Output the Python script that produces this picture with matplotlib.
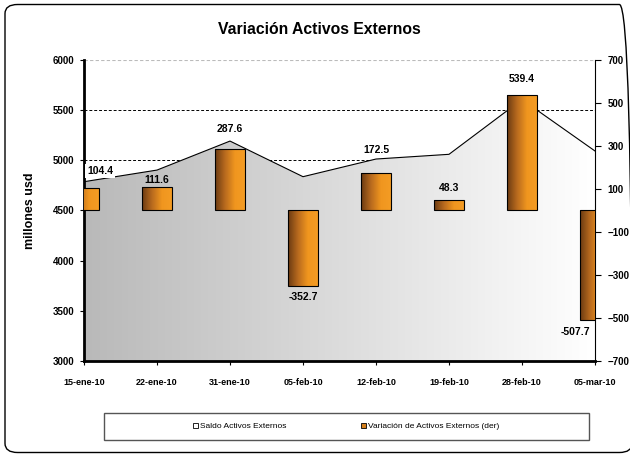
import matplotlib
matplotlib.use("Agg")
import matplotlib.pyplot as plt
import numpy as np
from matplotlib.colors import LinearSegmentedColormap
from matplotlib.patches import Polygon, Rectangle, FancyBboxPatch, Patch

plt.rcParams['font.family'] = ['Liberation Sans', 'DejaVu Sans']

fechas = ['15-ene-10', '22-ene-10', '31-ene-10', '05-feb-10',
          '12-feb-10', '19-feb-10', '28-feb-10', '05-mar-10']
saldo = [4787, 4903, 5192, 4837, 5013, 5060, 5606, 5093]
variacion = [104.4, 111.6, 287.6, -352.7, 172.5, 48.3, 539.4, -507.7]

# offsets de etiquetas (puntos) y desplazamiento horizontal (datos)
lbl_dy = [12, 5, 14, -8, 17, 9, 11, -9]
lbl_dx = [0.22, 0, 0, 0, 0, 0, 0, -0.27]

W, H = 630, 454
fig = plt.figure(figsize=(W / 100, H / 100), dpi=100)

# marco redondeado
frame = FancyBboxPatch((5 / W, 1.5 / H), 627 / W, 448 / H,
                       boxstyle="round,pad=0,rounding_size=0.02",
                       transform=fig.transFigure, fill=False,
                       edgecolor='black', linewidth=1.0)
fig.patches.append(frame)

ax = fig.add_axes([84 / W, 1 - 361 / H, (595 - 84) / W, (361 - 60) / H])
x = np.arange(len(fechas))
xmax = len(fechas) - 1

ax.set_xlim(0, xmax)
ax.set_ylim(3000, 6000)
ax.set_yticks(np.arange(3000, 6001, 500))

# grilla
for yv in np.arange(3500, 6000, 500):
    ax.axhline(yv, color='black', linestyle=(0, (3, 2)), linewidth=0.7, zorder=0)
ax.axhline(6000, color='#bbbbbb', linestyle=(0, (3, 2)), linewidth=0.8, zorder=0)

# area con degradado
verts = [(0, 3000)] + list(zip(x, saldo)) + [(x[-1], 3000)]
poly = Polygon(verts, closed=True, facecolor='none', edgecolor='none')
ax.add_patch(poly)
gray_cmap = LinearSegmentedColormap.from_list('g', ['#b9b9b9', '#ffffff'])
grad = np.linspace(0, 1, 256).reshape(1, -1)
im = ax.imshow(grad, extent=[0, xmax, 3000, 6000], aspect='auto', cmap=gray_cmap,
               zorder=1, origin='lower')
im.set_clip_path(poly)
ax.plot(x, saldo, color='black', linewidth=0.8, zorder=2)

ax.spines['top'].set_visible(False)
ax.spines['right'].set_visible(False)
ax.spines['left'].set_linewidth(2)
ax.spines['bottom'].set_linewidth(2)
ax.spines['left'].set_zorder(5)
ax.spines['bottom'].set_zorder(5)
ax.set_xticks(x)
ax.set_xticklabels(fechas, fontsize=6.5, fontweight='bold')
ax.tick_params(axis='x', length=3, width=0.8, pad=9)
ax.tick_params(axis='y', length=3, width=0.8, labelsize=7, pad=4)
for t in ax.get_yticklabels():
    t.set_fontweight('bold')
ax.set_ylabel('millones usd', fontsize=9, fontweight='bold', labelpad=12)

# eje derecho con barras
ax2 = ax.twinx()
for s in ['top', 'left', 'bottom']:
    ax2.spines[s].set_visible(False)
ax2.spines['right'].set_linewidth(0.8)
ax2.tick_params(axis='y', length=4, width=0.8, labelsize=7, pad=5)

bar_cmap = LinearSegmentedColormap.from_list('o', ['#6a3a12', '#b86a1e', '#f0961f', '#f49c24'])
bw = 0.4
bars = ax2.bar(x, variacion, width=bw, facecolor='none', edgecolor='black',
               linewidth=0.8, zorder=4)
for b in bars:
    bx, by = b.get_x(), b.get_y()
    bh = b.get_height()
    bim = ax2.imshow(grad, extent=[bx, bx + bw, by, by + bh], aspect='auto',
                     cmap=bar_cmap, zorder=3, origin='lower')
    x0, x1 = max(bx, 0), min(bx + bw, xmax)
    clip = Rectangle((x0, by), x1 - x0, bh, transform=ax2.transData)
    bim.set_clip_path(clip)
ax2.set_xlim(0, xmax)
ax2.set_ylim(-700, 700)
ax2.set_yticks([-700, -500, -300, -100, 100, 300, 500, 700])
for t in ax2.get_yticklabels():
    t.set_fontweight('bold')

for i, v in enumerate(variacion):
    kw = {}
    if i == 0:
        kw['bbox'] = dict(facecolor='white', edgecolor='none', pad=1.5)
    ax2.annotate(f'{v:.1f}', (x[i] + lbl_dx[i], v), xytext=(0, lbl_dy[i]),
                 textcoords='offset points', ha='center', va='center',
                 fontsize=7.5, fontweight='bold', zorder=6, **kw)

fig.text(319 / W, 1 - 30 / H, 'Variación Activos Externos', ha='center',
         va='center', fontsize=11.3, fontweight='bold')

# leyenda
fig.patches.append(Rectangle((104 / W, 1 - 440 / H), 485 / W, 27 / H,
                             transform=fig.transFigure, fill=False,
                             edgecolor='#555555', linewidth=1.0))
handles = [Patch(facecolor='white', edgecolor='black', linewidth=0.6),
           Patch(facecolor='#d47f1c', edgecolor='black', linewidth=0.6)]
fig.legend(handles, ['Saldo Activos Externos', 'Variación de Activos Externos (der)'],
           loc='center', bbox_to_anchor=(346 / W, 1 - 426.5 / H), ncol=2,
           frameon=False, fontsize=6, handlelength=0.6, handleheight=0.6,
           handletextpad=0.2, columnspacing=9)

fig.savefig('out.png', dpi=100)
